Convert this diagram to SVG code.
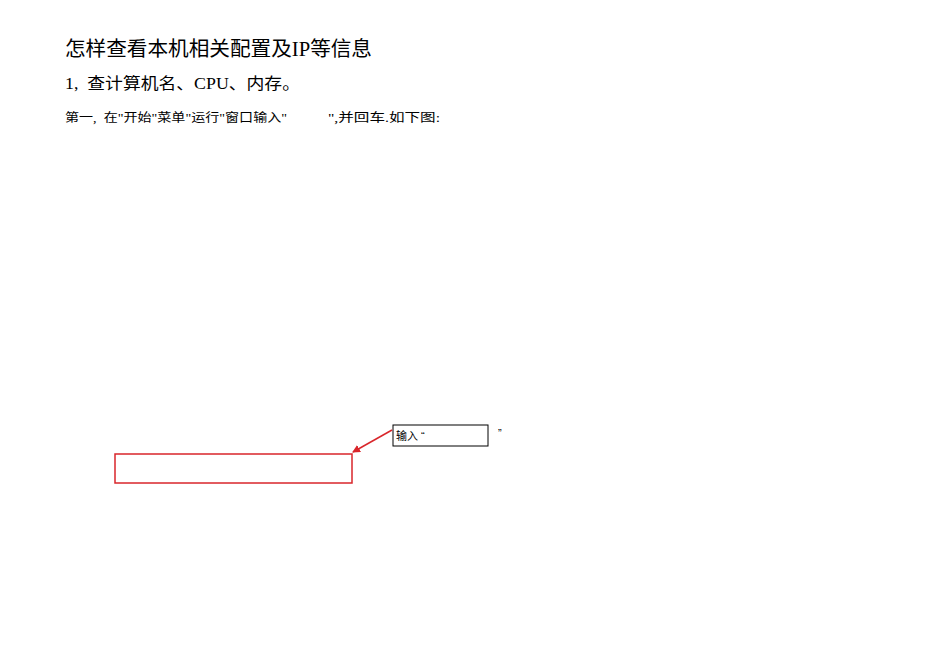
<svg xmlns="http://www.w3.org/2000/svg" width="950" height="672" viewBox="0 0 950 672">
<style>
.t{font-family:"Liberation Serif","Noto Sans CJK SC",serif;fill:#000}
.s{font-family:"Liberation Sans","Noto Sans CJK SC",sans-serif;fill:#000}
</style>
<defs><marker id="a" markerWidth="8" markerHeight="8" refX="7" refY="4" orient="auto" markerUnits="userSpaceOnUse"><path d="M0,0 L8,4 L0,8 z" fill="#d9262b"/></marker></defs>
<rect width="950" height="672" fill="#fff"/>
<text class="t" x="65" y="56" font-size="20" textLength="307" lengthAdjust="spacingAndGlyphs">怎样查看本机相关配置及IP等信息</text>
<text class="t" x="65" y="89" font-size="16" textLength="235" lengthAdjust="spacingAndGlyphs" xml:space="preserve">1,  查计算机名、CPU、内存。</text>
<text class="t" x="65" y="122" font-size="12" textLength="222" lengthAdjust="spacingAndGlyphs" xml:space="preserve">第一,  在"开始"菜单"运行"窗口输入"</text>
<text class="t" x="328" y="122" font-size="12" textLength="112" lengthAdjust="spacingAndGlyphs">",并回车.如下图:</text>
<g id="target"><rect x="115" y="454" width="237" height="29" fill="none" stroke="#d9262b" stroke-width="1.5"/></g>
<g id="callout"><rect x="393" y="425" width="95" height="21" fill="#fff" stroke="#000" stroke-width="1"/>
<text class="s" x="396" y="440" font-size="11" xml:space="preserve">输入 “</text>
<text class="s" x="498" y="437" font-size="11">”</text></g>
<g id="connectors"><line x1="392" y1="430" x2="353" y2="452" stroke="#d9262b" stroke-width="1.5" marker-end="url(#a)"/></g>
</svg>
